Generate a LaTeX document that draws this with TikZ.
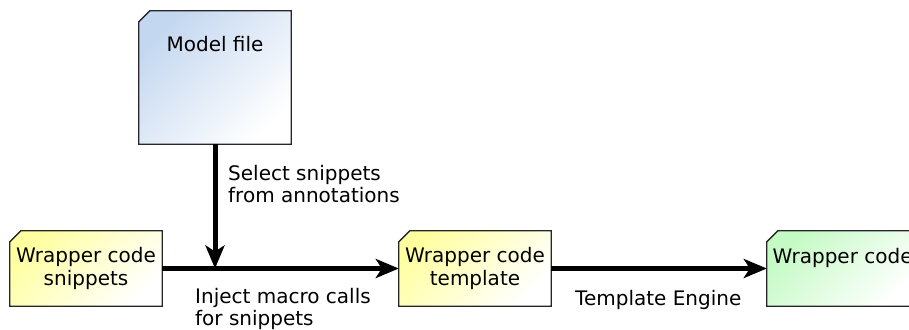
\documentclass[tikz,border=0pt]{standalone}
\usepackage{fontspec}
\setmainfont{DejaVu Sans}
\usetikzlibrary{arrows.meta}
\definecolor{fileblue}{RGB}{196,215,240}
\definecolor{fileyellow}{RGB}{255,255,160}
\definecolor{filegreen}{RGB}{196,250,196}
% outline of a file: rectangle with its top-left corner cut off
\newcommand\filebody[2]{%
  \draw[fileline, #2] ([yshift=-11pt]#1.north west) -- ([xshift=11pt]#1.north west)
    -- (#1.north east) -- (#1.south east) -- (#1.south west) -- cycle;}
\begin{document}
\begin{tikzpicture}[x=1pt,y=-1pt,
  font=\fontsize{20}{22.5}\selectfont,
  filebox/.style={rectangle, inner sep=0pt, minimum width=152pt,
    minimum height=75pt, align=center},
  fileline/.style={draw=black!85, line width=1.3pt},
  bluefill/.style={top color=fileblue, bottom color=white, shading angle=45},
  yellowfill/.style={top color=fileyellow, bottom color=white, shading angle=45},
  greenfill/.style={top color=filegreen, bottom color=white, shading angle=45},
  flow/.style={line width=5pt, -{Stealth[length=23pt,width=19pt,inset=6pt]}},
  lbl/.style={inner sep=0pt, align=left, anchor=north west}]
\useasboundingbox (0,0) rectangle (909,329);
\begin{scope}
\clip (0,0) rectangle (909,329);
% source and output files
\node[filebox, minimum height=133pt] (model) at (215,77.5) {};
\node[filebox] (snip) at (86,268.5) {};
\node[filebox] (tmpl) at (475,268.5) {};
\node[filebox] (out) at (843,268.5) {};
\filebody{model}{bluefill}
\filebody{snip}{yellowfill}
\filebody{tmpl}{yellowfill}
\filebody{out}{greenfill}
\node[inner sep=0pt, anchor=north] (modeltxt) at (215,36) {Model file};
\node[inner sep=0pt, align=center] (sniptxt) at (snip) {Wrapper code\\snippets};
\node[inner sep=0pt, align=center] (tmpltxt) at (tmpl) {Wrapper code\\template};
\node[lbl] (outtxt) at (772.5,248.5) {Wrapper code};
% flow of the generator
\coordinate (join) at (model.south |- snip.east);
\draw[flow] (model.south) -- (join);
\draw[flow] (snip.east) -- (tmpl.west);
\draw[flow] (tmpl.east) -- (out.west);
\node[lbl] (sel) at (228,165) {Select snippets\\from annotations};
\node[lbl] (inj) at (195,288) {Inject macro calls\\for snippets};
\node[lbl] (eng) at (575,290) {Template Engine};
\end{scope}
\end{tikzpicture}
\end{document}
